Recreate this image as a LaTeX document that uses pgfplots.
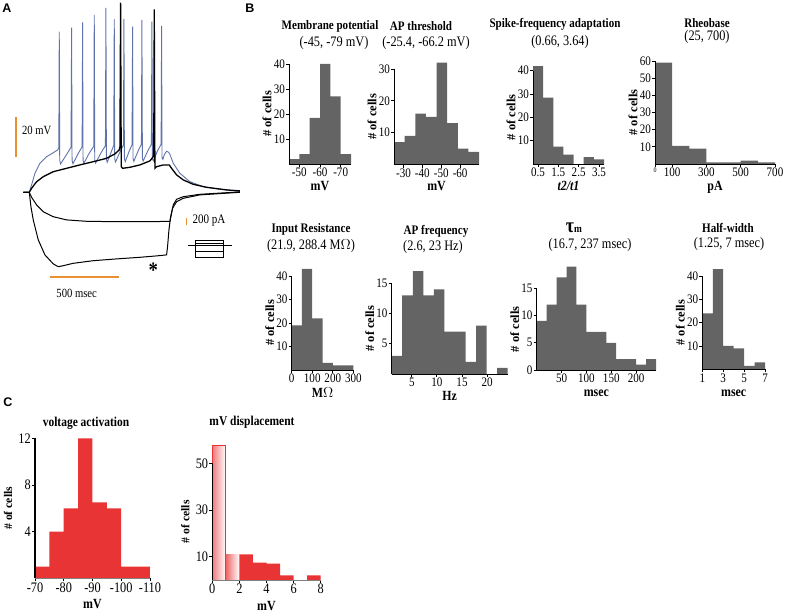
\documentclass[border=0pt]{standalone}
\usepackage{pgfplots}
\pgfplotsset{compat=1.18}
\usepackage{fontspec}
\setmainfont{Liberation Serif}[FakeStretch=0.85]
\newfontfamily\rotf{Liberation Serif}
\newfontfamily\arialf{Liberation Sans}
\definecolor{bargray}{RGB}{100,100,100}
\definecolor{tracblue}{RGB}{95,115,170}
\definecolor{scaleor}{RGB}{232,145,50}
\definecolor{cred}{RGB}{232,52,52}
\pgfplotsset{
  /pgf/number format/assume math mode=true,
  hist/.style={
    scale only axis, axis lines=left, axis line style={-, line width=1pt, black},
    tick align=outside, major tick length=3pt, tick style={black, line width=0.8pt},
    clip=false, ymin=0, anchor=south west, axis on top,
    ticklabel style={font=\fontsize{13}{13}\selectfont, inner sep=1pt},
    xlabel style={font=\bfseries\fontsize{14}{14}\selectfont, inner sep=0.5pt, yshift=-2.5pt},
    ylabel style={font=\rotf\bfseries\fontsize{12.5}{12.5}\selectfont, inner sep=1pt},
    ylabel={\# of cells},
  },
  histC/.style={hist,
    y axis line style={line width=1.6pt}, x axis line style={line width=0.8pt, gray},
    ticklabel style={font=\fontsize{14.5}{14.5}\selectfont},
    xlabel style={font=\bfseries\fontsize{14}{14}\selectfont, yshift=-3pt},
    ylabel style={font=\rotf\bfseries\fontsize{11.7}{11.7}\selectfont, yshift=4pt},
  },
}
\newcommand{\ttl}[3]{\node[font=\bfseries\fontsize{13}{13}\selectfont] at (#1pt,-#2pt) {#3};}
\newcommand{\sub}[3]{\node[font=\fontsize{14.5}{14.5}\selectfont] at (#1pt,-#2pt) {#3};}
\begin{document}
\begin{tikzpicture}
\path[use as bounding box] (0,0) rectangle (787pt,-615pt);
% ---------------- Panel A ----------------
\begin{axis}[at={(15.4pt,-300.3pt)}, anchor=south west, scale only axis, width=224.7pt, height=300pt,
  xmin=-100, xmax=1520, ymin=-54, ymax=96, hide axis, clip=false]
\addplot[tracblue, line width=0.9pt] coordinates {(-43,0) (0,0) (16.8,3.7) (40.9,9.5) (76.9,14.5) (125,17.8) (173,19.8) (205,21.2)
 (213,22.2) (216.3,80.3) (219.5,16) (226,14.2) (270,19) (301,22.5) (305.2,82.3) (308.5,16) (315,14.3)
 (350,19) (381,22.8) (384.5,85) (387.8,16) (394,14.5) (430,19.3) (465,23) (468.6,88.7) (471.9,16.2) (478,14.6)
 (515,19.5) (549,23.3) (552.7,92.2) (556,16.5) (562,15) (590,20) (609,23.5) (612.8,86.7) (616,16.7) (622,15.2)
 (655,20.3) (679,23.7) (682.5,86.7) (685.8,16.8) (692,15.3) (720,20.5) (741,23.8) (744.9,82.8) (748.2,17) (754,15.5)
 (785,20.7) (808.5,24) (812.2,86.2) (815.5,17) (821,15.6) (855,20.8) (880.5,24) (884.3,85.3) (887.6,17) (894,15.7)
 (925,20.8) (950.5,24) (954,83.2) (957.3,17.2) (963,16.5) (975,19) (990,20.5) (1005,20) (1014,19)
 (1038,14.5) (1086,9.5) (1158,5.3) (1254,2.8) (1375,1.5) (1519,0.5)};
\addplot[black, line width=1.3pt] coordinates {(-43,0) (0,0) (16.8,2) (52.9,5.3) (100.9,7.8) (173,10.3) (269,12) (365,13.7)
 (461,15.3) (557.5,17) (617.6,19.2) (648.8,21.2) (653.6,22.8) (658.4,94.8) (663.2,12.8) (672.9,12) (725.7,12.5)
 (797.8,13.7) (869.9,15.7) (893.9,17.8) (897.5,19.2) (901.1,91.5) (905.9,12) (918,12.8) (966,13.7) (1009.3,13.7)
 (1026,12) (1062,8.7) (1110,6.2) (1182,4) (1278,2.5) (1423,1.2) (1519,0.7)};
\addplot[black, line width=1pt] coordinates {(-43,0) (0,0) (16.8,-2.5) (52.9,-6.3) (100.9,-9.7) (173,-12.2) (269,-13.8)
 (413,-14.5) (629.6,-14.7) (869.9,-14.7) (1014,-14.5) (1026,-10.5) (1038,-6.3) (1062,-3.5) (1110,-2.2) (1230,-1) (1519,0.2)};
\addplot[black, line width=1pt] coordinates {(-43,0) (0,0) (12,-7.2) (28.8,-13.8) (64.9,-23.8) (112.9,-31.3) (173,-35.8)
 (209,-37.2) (245,-36.7) (317,-35.5) (461,-34.2) (629.6,-33.3) (797.8,-32.5) (918,-31.8) (990,-31.3) (997,-27.2)
 (1007,-18.8) (1019,-12.2) (1033,-8) (1062,-4.7) (1110,-3) (1230,-1.3) (1519,0)};
\addplot[scaleor, line width=2pt] coordinates {(-98,37.5) (-98,17.5)};
\addplot[scaleor, line width=2pt] coordinates {(149,-42.2) (649,-42.2)};
\addplot[scaleor, line width=1.2pt] coordinates {(1135,-12.8) (1135,-16.3)};
\end{axis}
\node[font=\fontsize{12.5}{12.5}\selectfont] at (36.7pt,-130.7pt) {20 mV};
\node[font=\fontsize{12.5}{12.5}\selectfont] at (76.7pt,-293.3pt) {500 msec};
\node[font=\fontsize{13}{13}\selectfont] at (209pt,-220.7pt) {200 pA};
\node[font=\bfseries\fontsize{22}{22}\selectfont] at (153.3pt,-270pt) {*};
\draw[line width=0.8pt] (188.3pt,-245.7pt) -- (231.7pt,-245.7pt);
\draw[line width=0.8pt] (195pt,-240pt) rectangle (223pt,-257pt);
\draw[line width=0.8pt] (195pt,-243pt) -- (223pt,-243pt);
\draw[line width=0.8pt] (195pt,-251.5pt) -- (223pt,-251.5pt);
% ---------------- Panel letters ----------------
\node[font=\arialf\bfseries\fontsize{12.5}{12.5}\selectfont] at (7pt,-8pt) {A};
\node[font=\arialf\bfseries\fontsize{12.5}{12.5}\selectfont] at (250pt,-8pt) {B};
\node[font=\arialf\bfseries\fontsize{12.5}{12.5}\selectfont] at (8pt,-402pt) {C};
% ---------------- Row 1 ----------------
\begin{axis}[hist, at={(289pt,-164pt)}, width=62pt, height=100pt, xmin=45, xmax=75, ymax=40,
  ytick={10,20,30,40}, xtick={50,60,70}, xticklabels={-50,-60,-70}, xlabel={mV}]
\addplot[ybar interval, fill=bargray, draw=none] coordinates {(45,2) (50,4) (55,18.5) (60,40) (65,27) (70,4) (75,0)};
\end{axis}
\begin{axis}[hist, at={(394pt,-164.5pt)}, width=85pt, height=95.5pt, xmin=25, xmax=70, ymax=30,
  ytick={10,20,30}, xtick={30,40,50,60}, xticklabels={-30,-40,-50,-60}, xlabel={mV}]
\addplot[ybar interval, fill=bargray, draw=none] coordinates {(25,7) (30.625,9) (36.25,16) (41.875,15) (47.5,32) (53.125,13) (58.75,5) (64.375,4) (70,0)};
\end{axis}
\begin{axis}[hist, at={(533pt,-164pt)}, width=71pt, height=93.3pt, xmin=0.25, xmax=3.75, ymax=40,
  ytick={10,20,30,40}, xtick={0.5,1.5,2.5,3.5}, xticklabels={0.5,1.5,2.5,3.5}, xlabel={\itshape t2/t1}]
\addplot[ybar interval, fill=bargray, draw=none] coordinates {(0.25,42) (0.75,28.5) (1.25,7.5) (1.75,4) (2.25,0) (2.75,3) (3.25,2) (3.75,0)};
\end{axis}
\begin{axis}[hist, at={(655pt,-164pt)}, width=120pt, height=103pt, xmin=0, xmax=700, ymax=60,
  ytick={10,20,30,40,50,60}, xtick={0,100,300,500,700}, xticklabels={{\fontsize{7}{7}\selectfont 0},100,300,500,700}, xlabel={pA}]
\addplot[ybar interval, fill=bargray, draw=none] coordinates {(0,59) (100,10.5) (200,9) (300,1) (400,1) (500,2) (600,1) (700,0)};
\end{axis}
\ttl{330}{26}{Membrane potential}
\sub{334}{43}{(-45, -79 mV)}
\ttl{421}{26}{AP threshold}
\sub{426}{43}{(-25.4, -66.2 mV)}
\ttl{555}{24}{Spike-frequency adaptation}
\sub{560}{42}{(0.66, 3.64)}
\ttl{707}{23}{Rheobase}
\sub{707}{37}{(25, 700)}
% ---------------- Row 2 ----------------
\begin{axis}[hist, at={(291.7pt,-370pt)}, width=61.6pt, height=94pt, xmin=0, xmax=300, ymax=40,
  ytick={10,20,30,40}, xtick={0,100,200,300}, xlabel={M$\Omega$}]
\addplot[ybar interval, fill=bargray, draw=none] coordinates {(0,19) (50,43) (100,22) (150,3) (200,2) (250,2) (300,0)};
\end{axis}
\begin{axis}[hist, at={(391.7pt,-374pt)}, width=116pt, height=90.7pt, xmin=1, xmax=24.1, ymax=15,
  ytick={5,10,15}, xtick={5,10,15,20}, xlabel={Hz}]
\addplot[ybar interval, fill=bargray, draw=none] coordinates {(1,3) (3.1,13) (5.2,17) (7.3,13) (9.4,14) (11.5,7) (13.6,7) (15.7,2) (17.8,8) (19.9,0) (22,1) (24.1,0)};
\end{axis}
\begin{axis}[hist, at={(536.7pt,-370pt)}, width=119.3pt, height=81.7pt, xmin=0, xmax=240, ymax=15,
  ytick={0,5,10,15}, xtick={50,100,150,200}, xlabel={msec}, xlabel style={yshift=-3pt}]
\addplot[ybar interval, fill=bargray, draw=none] coordinates {(0,9) (20,12) (40,17) (60,19) (80,12) (100,7) (120,7) (140,5) (160,2) (180,2) (200,1) (220,2) (240,0)};
\end{axis}
\begin{axis}[hist, at={(702.3pt,-369.3pt)}, width=62.7pt, height=93.3pt, xmin=1, xmax=7, ymax=40,
  ytick={10,20,30,40}, xtick={1,3,5,7}, xlabel={msec}, xlabel style={yshift=-3pt}]
\addplot[ybar interval, fill=bargray, draw=none] coordinates {(1,24) (2,43) (3,10) (4,9) (5,1.5) (6,3) (7,0)};
\end{axis}
\ttl{311}{229}{Input Resistance}
\sub{311}{246.5}{(21.9, 288.4 M$\Omega$)}
\ttl{436}{231.5}{AP frequency}
\sub{433}{247}{(2.6, 23 Hz)}
\node at (574pt,-228pt) {{\bfseries\fontsize{21}{21}\selectfont τ}{\bfseries\fontsize{11}{11}\selectfont m}};
\sub{590}{245}{(16.7, 237 msec)}
\ttl{728}{228}{Half-width}
\sub{729}{244}{(1.25, 7 msec)}
% ---------------- Panel C ----------------
\begin{axis}[histC, at={(35pt,-578.3pt)}, width=115pt, height=140pt, xmin=70, xmax=110, ymax=12,
  ytick={4,8,12}, xtick={70,80,90,100,110}, xticklabels={-70,-80,-90,-100,-110}, xlabel={mV}]
\addplot[ybar interval, fill=cred, draw=none] coordinates {(70,1) (75,4) (80,6) (85,12) (90,6.5) (95,6) (100,1) (105,1) (110,0)};
\end{axis}
\begin{axis}[histC, at={(212.3pt,-580pt)}, width=108.4pt, height=116.7pt, xmin=0, xmax=8, ymax=50,
  ytick={10,30,50}, xtick={0,2,4,6,8}, xlabel={mV}]
\addplot[ybar interval, draw=cred, line width=0.8pt, left color=cred!65, right color=white] coordinates {(0,57.5) (1,0)};
\addplot[ybar interval, draw=none, left color=cred!75, right color=white] coordinates {(1,11) (2,0)};
\addplot[ybar interval, fill=cred, draw=none] coordinates {(2,11) (3,7.5) (4,7) (5,2) (6,0) (7,2) (8,0)};
\end{axis}
\node[font=\bfseries\fontsize{13.5}{13.5}\selectfont] at (86pt,-423pt) {voltage activation};
\node[font=\bfseries\fontsize{13.5}{13.5}\selectfont] at (252pt,-422pt) {mV displacement};
\end{tikzpicture}
\end{document}
